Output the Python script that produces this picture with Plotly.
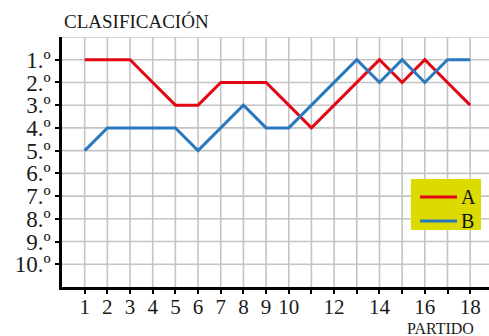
import plotly.graph_objects as go

# Matchday number and league position for each team
partidos = list(range(1, 19))
equipo_a = [1, 1, 1, 2, 3, 3, 2, 2, 2, 3, 4, 3, 2, 1, 2, 1, 2, 3]
equipo_b = [5, 4, 4, 4, 4, 5, 4, 3, 4, 4, 3, 2, 1, 2, 1, 2, 1, 1]
equipos = ["A", "B"]

# Axis labels
x_ticks = list(range(1, 19))
x_labels = ["1", "2", "3", "4", "5", "6", "7", "8", "9", "10",
            "", "12", "", "14", "", "16", "", "18"]
y_ticks = list(range(1, 11))
y_labels = [f"{n}.º" for n in y_ticks]

SERIF = "Liberation Serif, Times New Roman, serif"
ROJO = "#e30613"
AZUL = "#2a78be"
COLORES = [ROJO, AZUL]

W, H = 489, 336
ML, MR, MT, MB = 62, 0, 37, 49
plot_w = W - ML - MR
plot_h = H - MT - MB


def px_x(p):
    return (p - ML) / plot_w


def px_y(p):
    return 1 - (p - MT) / plot_h


fig = go.Figure()
for nombre, serie, color in zip(equipos, [equipo_a, equipo_b], COLORES):
    fig.add_trace(go.Scatter(x=partidos, y=serie, mode="lines", name=nombre,
                             line=dict(color=color, width=3), showlegend=False))

# Light grid drawn on every unit, including the top row
for v in range(1, 20):
    fig.add_shape(type="line", xref="x", yref="y", x0=v, x1=v, y0=0, y1=11,
                  line=dict(color="#c4c4c4", width=1.6), layer="below")
for v in range(0, 11):
    fig.add_shape(type="line", xref="x", yref="y", x0=0, x1=20, y0=v, y1=v,
                  line=dict(color="#c4c4c4", width=1.6), layer="below")

# Key box with a line sample per team
fig.add_shape(type="rect", xref="paper", yref="paper",
              x0=px_x(411), x1=px_x(481), y0=px_y(230), y1=px_y(179),
              fillcolor="#dcdb00", line=dict(width=0), layer="above")
for i, (nombre, color) in enumerate(zip(equipos, COLORES)):
    yy = 197 + i * 24
    fig.add_shape(type="line", xref="paper", yref="paper",
                  x0=px_x(420), x1=px_x(457), y0=px_y(yy), y1=px_y(yy),
                  line=dict(color=color, width=3), layer="above")
    fig.add_annotation(text=nombre, xref="paper", yref="paper",
                       x=px_x(459), y=px_y(yy), xanchor="left",
                       yanchor="middle", showarrow=False,
                       font=dict(family=SERIF, size=20, color="#111111"))

fig.update_layout(
    width=W, height=H,
    margin=dict(l=ML, r=MR, t=MT, b=MB),
    paper_bgcolor="white", plot_bgcolor="white",
    font=dict(family=SERIF, color="#1a1a1a"),
)

fig.update_xaxes(range=[0, 18.83], tickmode="array", tickvals=x_ticks,
                 ticktext=x_labels, showgrid=False, zeroline=False,
                 showline=True, linecolor="black", linewidth=2.5,
                 ticks="outside", ticklen=4, tickwidth=2, tickcolor="black",
                 ticklabelstandoff=-5,
                 tickfont=dict(family=SERIF, size=21, color="#1a1a1a"))
fig.update_yaxes(range=[11, 0], tickmode="array", tickvals=y_ticks,
                 ticktext=y_labels, showgrid=False, zeroline=False,
                 showline=True, linecolor="black", linewidth=2.5,
                 ticks="outside", ticklen=4, tickwidth=2, tickcolor="black",
                 tickfont=dict(family=SERIF, size=23, color="#1a1a1a"))

fig.add_annotation(text="CLASIFICACIÓN", xref="paper", yref="paper",
                   x=0, y=1, xanchor="left", yanchor="bottom", yshift=3,
                   showarrow=False,
                   font=dict(family=SERIF, size=19, color="#1a1a1a"))
fig.add_annotation(text="PARTIDO", xref="paper", yref="paper",
                   x=px_x(405), y=px_y(318), xanchor="left", yanchor="top",
                   showarrow=False,
                   font=dict(family=SERIF, size=16, color="#1a1a1a"))

fig.write_html("out.html")
